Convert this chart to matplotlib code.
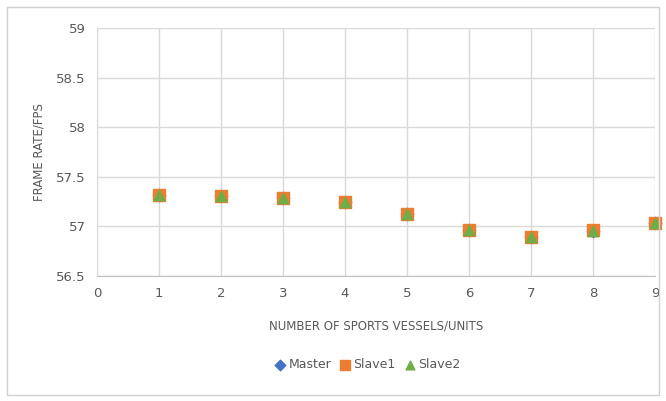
import matplotlib
matplotlib.use("Agg")
import matplotlib.pyplot as plt
from matplotlib.patches import Rectangle

vessels = [1, 2, 3, 4, 5, 6, 7, 8, 9]
master = [57.32, 57.31, 57.29, 57.25, 57.12, 56.96, 56.89, 56.95, 57.03]
slave1 = [57.32, 57.31, 57.29, 57.25, 57.12, 56.96, 56.89, 56.96, 57.03]
slave2 = [57.32, 57.31, 57.29, 57.25, 57.12, 56.96, 56.89, 56.95, 57.03]
x_ticks = [0, 1, 2, 3, 4, 5, 6, 7, 8, 9]
y_ticks = [56.5, 57, 57.5, 58, 58.5, 59]
y_tick_labels = ["56.5", "57", "57.5", "58", "58.5", "59"]

txt = "#595959"
grid = "#d9d9d9"

fig = plt.figure(figsize=(6.66, 4.01), dpi=100)
fig.patches.append(Rectangle((0.011, 0.015), 0.978, 0.968, transform=fig.transFigure,
                             fill=False, edgecolor="#d0d0d0", linewidth=1.0))
ax = fig.add_axes([97 / 666, 1 - 276 / 401, (655 - 97) / 666, (276 - 28) / 401])

ax.scatter(vessels, master, marker="D", s=40, color="#4472C4", zorder=3, label="Master",
           clip_on=False)
ax.scatter(vessels, slave1, marker="s", s=80, color="#ED7D31", zorder=4, label="Slave1",
           clip_on=False)
ax.scatter(vessels, slave2, marker="^", s=55, color="#70AD47", zorder=5, label="Slave2",
           clip_on=False)

ax.set_xlim(0, 9)
ax.set_ylim(56.5, 59)
ax.set_xticks(x_ticks)
ax.set_yticks(y_ticks)
ax.set_yticklabels(y_tick_labels)
ax.grid(True, color=grid, linewidth=1.0, zorder=0)
ax.set_axisbelow(True)
for s in ["top", "right"]:
    ax.spines[s].set_visible(False)
ax.spines["left"].set_color(grid)
ax.spines["bottom"].set_color("#bfbfbf")
ax.tick_params(length=0, labelsize=9.5, labelcolor=txt, pad=8)

ax.set_xlabel("NUMBER OF SPORTS VESSELS/UNITS", fontsize=8.5, color=txt, labelpad=14)
ax.set_ylabel("FRAME RATE/FPS", fontsize=8.5, color=txt, labelpad=8)

fig.legend(loc="center", bbox_to_anchor=(367 / 666, 1 - 365 / 401), ncol=3, frameon=False,
           fontsize=9, labelcolor=txt, handletextpad=0.2, columnspacing=0.6,
           handlelength=1.0, markerscale=0.85)

fig.savefig("out.png", dpi=100)
